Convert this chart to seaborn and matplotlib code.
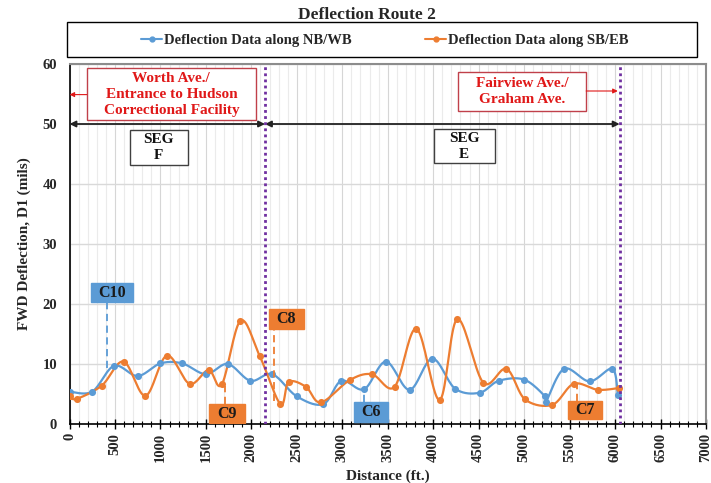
import numpy as np
import pandas as pd
import matplotlib
matplotlib.use("Agg")
import matplotlib.pyplot as plt
from matplotlib.lines import Line2D
from matplotlib.patches import Rectangle
import seaborn as sns

# ---------------- data ----------------
blue_x = [0, 250, 490, 750, 1000, 1240, 1500, 1740, 1990, 2230, 2500, 2790, 2990, 3240,
          3480, 3740, 3990, 4240, 4510, 4720, 5000, 5230, 5240, 5440, 5720, 5970, 6030]
blue_y = [5.4, 5.4, 9.7, 8.0, 10.1, 10.1, 8.3, 10.0, 7.2, 8.3, 4.6, 3.3, 7.2, 5.8,
          10.4, 5.7, 10.9, 5.9, 5.2, 7.2, 7.4, 4.6, 3.7, 9.2, 7.1, 9.2, 4.8]
orange_x = [0, 80, 355, 595, 835, 1070, 1320, 1530, 1675, 1880, 2090, 2320, 2410, 2600,
            2765, 3080, 3325, 3575, 3815, 4070, 4265, 4550, 4805, 5010, 5310, 5545, 5810, 6045]
orange_y = [4.6, 4.2, 6.4, 10.4, 4.7, 11.4, 6.7, 9.0, 6.6, 17.2, 11.4, 3.3, 7.0, 6.2,
            3.6, 7.3, 8.3, 6.2, 15.9, 4.0, 17.5, 6.9, 9.2, 4.1, 3.2, 6.7, 5.7, 6.0]
series_names = ["Deflection Data along NB/WB", "Deflection Data along SB/EB"]
title = "Deflection Route 2"
xlabel = "Distance (ft.)"
ylabel = "FWD Deflection, D1 (mils)"
x_ticks = list(range(0, 7001, 500))
y_ticks = list(range(0, 61, 10))
segment_bounds = [0, 2150, 6050]
segment_labels = ["SEG\nF", "SEG\nE"]
street_labels = ["Worth Ave./\nEntrance to Hudson\nCorrectional Facility",
                 "Fairview Ave./\nGraham Ave."]
callout_labels = ["C10", "C9", "C8", "C6", "C7"]
callout_series = [0, 1, 1, 0, 1]
callout_x = [410, 1709, 2250, 3236, 5580]          # leader line position
callout_y = [(20.3, 9.3), (6.4, 3.3), (15.8, 3.8), (5.8, 3.7), (6.7, 3.9)]

# layout (box extents in data units: x0, x1, y0, y1)
seg_boxes = [(660, 1305, 43.1, 49.0), (4005, 4678, 43.45, 49.1)]
street_boxes = [(190, 2050, 50.6, 59.3), (4274, 5682, 52.2, 58.7)]
callout_boxes = [(234, 693, 20.3, 23.45), (1532, 1929, 0.1, 3.33), (2191, 2577, 15.8, 19.1),
                 (3132, 3501, 0.4, 3.7), (5477, 5855, 0.8, 3.9)]

BLUE = "#5B9BD5"
ORANGE = "#ED7D31"
PURPLE = "#7030A0"
RED = "#E01818"
SERIF = ["Liberation Serif", "DejaVu Serif"]


def smooth(xs, ys, n=20):
    """Excel-style smoothed line (Catmull-Rom Bezier) through the points."""
    P = np.column_stack([xs, ys]).astype(float)
    P = np.vstack([P[0], P, P[-1]])
    out = []
    t = np.linspace(0, 1, n)[:, None]
    for i in range(1, len(P) - 2):
        p0, p1, p2, p3 = P[i - 1], P[i], P[i + 1], P[i + 2]
        c1 = p1 + (p2 - p0) / 6
        c2 = p2 - (p3 - p1) / 6
        seg = ((1 - t) ** 3) * p1 + 3 * ((1 - t) ** 2) * t * c1 + 3 * (1 - t) * t ** 2 * c2 + t ** 3 * p2
        out.append(seg if i == 1 else seg[1:])
    return np.vstack(out)


def boxed_text(ax, box, text, fc, ec, color, size, ls=1.2, lw=1.0):
    x0, x1, y0, y1 = box
    ax.add_patch(Rectangle((x0, y0), x1 - x0, y1 - y0, fc=fc, ec=ec, lw=lw, zorder=6))
    ax.text((x0 + x1) / 2, (y0 + y1) / 2, text, ha="center", va="center", fontsize=size,
            fontweight="bold", color=color, family=SERIF, linespacing=ls, zorder=7)


sns.set_theme(style="white")
plt.rcParams["font.family"] = SERIF
plt.rcParams["font.weight"] = "bold"

fig = plt.figure(figsize=(7.11, 4.83), dpi=100)
ax = fig.add_axes([69.5 / 711, 1 - 424 / 483, (706 - 69.5) / 711, (424 - 64) / 483])

# grid
for xv in range(0, 7001, 100):
    ax.axvline(xv, color="#ebebeb" if xv % 500 else "#d6d6d6", lw=0.8, zorder=0)
for yv in y_ticks:
    ax.axhline(yv, color="#d9d9d9", lw=1.0, zorder=0)

# series
for xs, ys, col in [(blue_x, blue_y, BLUE), (orange_x, orange_y, ORANGE)]:
    c = smooth(xs, ys)
    df_c = pd.DataFrame({"x": c[:, 0], "y": c[:, 1]})
    sns.lineplot(data=df_c, x="x", y="y", sort=False, estimator=None, color=col, lw=1.6,
                 ax=ax, zorder=3)
    df_p = pd.DataFrame({"x": xs, "y": ys})
    sns.scatterplot(data=df_p, x="x", y="y", color=col, s=26, edgecolor=col, linewidth=0,
                    ax=ax, zorder=4)

# vertical segment boundaries
for xv in segment_bounds[1:]:
    ax.axvline(xv, color=PURPLE, ls=(0, (1, 1.2)), lw=2.0, zorder=5)

# segment double arrows
for a, b in zip(segment_bounds[:-1], segment_bounds[1:]):
    ax.annotate("", xy=(a, 50), xytext=(b, 50),
                arrowprops=dict(arrowstyle="<|-|>", color="#222222", lw=1.3,
                                mutation_scale=9, shrinkA=0, shrinkB=0), zorder=4)

for box, lab in zip(seg_boxes, segment_labels):
    boxed_text(ax, box, lab, "white", "#404040", "#111111", 11, ls=1.3)

for box, lab in zip(street_boxes, street_labels):
    boxed_text(ax, box, lab, "white", "#C0404A", RED, 11, ls=1.28)
ax.annotate("", xy=(0, 54.9), xytext=(street_boxes[0][0], 54.9),
            arrowprops=dict(arrowstyle="-|>", color=RED, lw=0.8, mutation_scale=7,
                            shrinkA=0, shrinkB=0), zorder=6)
ax.annotate("", xy=(segment_bounds[2] - 20, 55.5), xytext=(street_boxes[1][1], 55.5),
            arrowprops=dict(arrowstyle="-|>", color=RED, lw=0.8, mutation_scale=7,
                            shrinkA=0, shrinkB=0), zorder=6)

# callouts
for lab, si, lx, (ytop, ybot), box in zip(callout_labels, callout_series, callout_x,
                                          callout_y, callout_boxes):
    col = BLUE if si == 0 else ORANGE
    ax.plot([lx, lx], [ybot, ytop], ls=(0, (4, 2.5)), color=col, lw=1.3, zorder=5)
    boxed_text(ax, box, lab, col, col, "#1a1a1a", 11.5)

# axes
ax.set_xlim(0, 7000)
ax.set_ylim(0, 60)
ax.set_xticks(x_ticks)
ax.set_xticks(range(0, 7001, 100), minor=True)
ax.set_yticks(y_ticks)
ax.set_xticklabels([str(v) for v in x_ticks], rotation=90, fontsize=10.5, fontweight="bold")
ax.set_yticklabels([str(v) for v in y_ticks], fontsize=10.5, fontweight="bold")
ax.tick_params(axis="x", which="major", direction="inout", length=7, width=1.0, color="black",
               pad=3, bottom=True)
ax.tick_params(axis="x", which="minor", direction="inout", length=4, width=0.8, color="black",
               bottom=True)
ax.tick_params(axis="y", length=0, pad=9)
ax.set_xlabel(xlabel, fontsize=11, fontweight="bold", labelpad=5)
ax.set_ylabel(ylabel, fontsize=11, fontweight="bold", labelpad=8)
for s in ["left", "bottom"]:
    ax.spines[s].set_color("black")
    ax.spines[s].set_linewidth(1.2)
for s in ["top", "right"]:
    ax.spines[s].set_color("#8c8c8c")
    ax.spines[s].set_linewidth(1.5)

# title & legend
fig.text(367 / 711, 1 - 15 / 483, title, ha="center", va="center", fontsize=12.5,
         fontweight="bold", family=SERIF)
fig.patches.append(Rectangle((67 / 711, 1 - 57 / 483), 630 / 711, 35 / 483,
                             transform=fig.transFigure, fill=False, ec="black", lw=1.0))
handles = [Line2D([], [], color=BLUE, marker="o", ms=3.5, lw=1.5),
           Line2D([], [], color=ORANGE, marker="o", ms=3.5, lw=1.5)]
fig.legend(handles, series_names, loc="center", bbox_to_anchor=(385 / 711, 1 - 40 / 483),
           ncol=2, frameon=False, prop={"family": SERIF, "weight": "bold", "size": 10.5},
           handlelength=1.45, handletextpad=0.15, columnspacing=5.0)

fig.savefig("out.png", dpi=100)
